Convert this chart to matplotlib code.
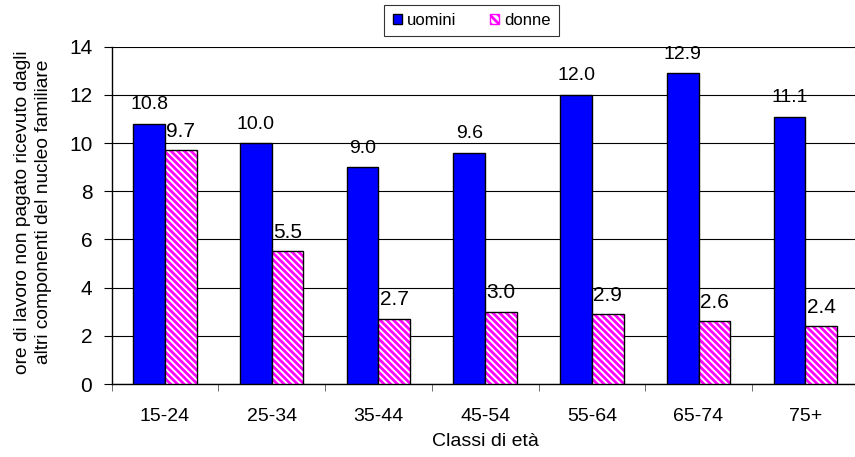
import matplotlib
matplotlib.use("Agg")
import matplotlib.pyplot as plt
import numpy as np
from matplotlib.patches import Patch

plt.rcParams['font.family'] = ['Liberation Sans', 'DejaVu Sans']
plt.rcParams['hatch.linewidth'] = 2.0

categories = ["15-24", "25-34", "35-44", "45-54", "55-64", "65-74", "75+"]
uomini = [10.8, 10.0, 9.0, 9.6, 12.0, 12.9, 11.1]
donne = [9.7, 5.5, 2.7, 3.0, 2.9, 2.6, 2.4]
series_names = ["uomini", "donne"]
y_ticks = [0, 2, 4, 6, 8, 10, 12, 14]

W, H = 855, 457
fig = plt.figure(figsize=(W / 100, H / 100), dpi=100)
ax = fig.add_axes([111.7 / W, 1 - 384 / H, (858.6 - 111.7) / W, (384 - 46.7) / H])

x = np.arange(len(categories))
bw = 0.297
ax.bar(x - bw / 2, uomini, bw, color='#0000FF', edgecolor='black', linewidth=1.0, zorder=3)
ax.bar(x + bw / 2, donne, bw, color='white', edgecolor='#FF00FF', linewidth=0,
       hatch='\\\\\\\\\\', zorder=3)
ax.bar(x + bw / 2, donne, bw, color='none', edgecolor='black', linewidth=1.0, zorder=4)

for xi, v in zip(x, uomini):
    ax.text(xi - bw / 2, v + 0.6, f"{v:.1f}", ha='center', va='baseline', fontsize=14, zorder=5)
for xi, v in zip(x, donne):
    ax.text(xi + bw / 2, v + 0.56, f"{v:.1f}", ha='center', va='baseline', fontsize=15, zorder=5)

ax.set_xlim(-0.5, len(categories) - 0.5)
ax.set_ylim(0, 14)
ax.set_yticks(y_ticks)
ax.set_yticklabels([str(t) for t in y_ticks], fontsize=15)
ax.set_xticks(x)
ax.set_xticklabels(categories, fontsize=14)
ax.set_xticks(np.arange(-0.5, len(categories), 1.0), minor=True)
ax.tick_params(axis='x', which='major', length=0, pad=17)
ax.tick_params(axis='x', which='minor', length=5, direction='out', color='#555555')
ax.tick_params(axis='y', length=6, direction='out', pad=8)

ax.grid(axis='y', color='black', linewidth=0.8, zorder=0)
ax.set_axisbelow(True)
for s in ['top', 'right']:
    ax.spines[s].set_visible(False)
ax.spines['left'].set_linewidth(1.0)
ax.spines['bottom'].set_linewidth(1.0)

fig.text(33 / W, 1 - 212 / H,
         "ore di lavoro non pagato ricevuto dagli\naltri componenti del nucleo familiare",
         rotation=90, ha='center', va='center', multialignment='center',
         fontsize=13.8, linespacing=1.3)
ax.set_xlabel("Classi di età", fontsize=14, labelpad=6)

handles = [Patch(facecolor='#0000FF', edgecolor='black', label=series_names[0]),
           Patch(facecolor='white', edgecolor='#FF00FF', hatch='\\\\\\\\', label=series_names[1])]
leg = fig.legend(handles=handles, loc='upper center', bbox_to_anchor=(471.5 / W, 1 - 4.7 / H),
                 ncol=2, fontsize=12, frameon=True, fancybox=False, handlelength=0.55,
                 handleheight=0.55, handletextpad=0.3, columnspacing=2.0, borderpad=0.5,
                 borderaxespad=0)
leg.get_frame().set_edgecolor('black')
leg.get_frame().set_linewidth(0.8)

fig.savefig("out.png", dpi=100)
